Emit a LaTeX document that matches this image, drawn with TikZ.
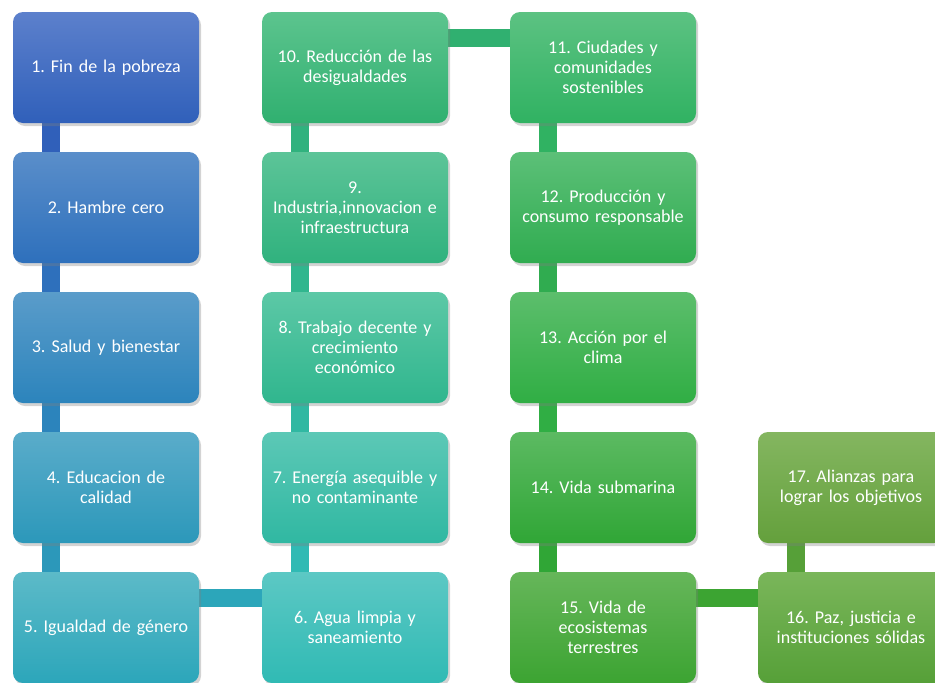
\documentclass[tikz,border=0pt]{standalone}
\usepackage{fontspec}
\setmainfont{Carlito}
\usepackage{tikz}
\usetikzlibrary{positioning,shadows,backgrounds}
\frenchspacing

\definecolor{t1}{RGB}{92,128,204}\definecolor{b1}{RGB}{48,96,186}
\definecolor{t2}{RGB}{90,142,202}\definecolor{b2}{RGB}{46,112,188}
\definecolor{t3}{RGB}{90,156,202}\definecolor{b3}{RGB}{44,132,188}
\definecolor{t4}{RGB}{90,172,202}\definecolor{b4}{RGB}{44,152,186}
\definecolor{t5}{RGB}{92,186,200}\definecolor{b5}{RGB}{44,166,186}
\definecolor{t6}{RGB}{92,200,196}\definecolor{b6}{RGB}{48,186,180}
\definecolor{t7}{RGB}{92,200,182}\definecolor{b7}{RGB}{48,184,162}
\definecolor{t8}{RGB}{92,200,166}\definecolor{b8}{RGB}{48,182,142}
\definecolor{t9}{RGB}{92,196,152}\definecolor{b9}{RGB}{48,178,126}
\definecolor{t10}{RGB}{92,196,142}\definecolor{b10}{RGB}{48,176,112}
\definecolor{t11}{RGB}{92,194,130}\definecolor{b11}{RGB}{48,178,98}
\definecolor{t12}{RGB}{92,192,120}\definecolor{b12}{RGB}{48,172,80}
\definecolor{t13}{RGB}{92,190,108}\definecolor{b13}{RGB}{48,174,68}
\definecolor{t14}{RGB}{92,186,98}\definecolor{b14}{RGB}{48,166,54}
\definecolor{t15}{RGB}{102,182,90}\definecolor{b15}{RGB}{60,164,50}
\definecolor{t16}{RGB}{122,182,90}\definecolor{b16}{RGB}{86,160,56}
\definecolor{t17}{RGB}{132,182,96}\definecolor{b17}{RGB}{100,160,60}

\begin{document}
\begin{tikzpicture}[x=1pt, y=-1pt,
    goal/.style={rounded corners=10pt, minimum width=186pt, minimum height=111pt,
        inner sep=0pt, text width=184pt, align=center, text=white,
        font=\fontsize{18}{20}\selectfont,
        drop shadow={opacity=0.35, shadow xshift=2pt, shadow yshift=-3pt}},
    tone/.style={top color=t#1, bottom color=b#1},
    link/.style={line width=18pt, draw=#1}]
    \useasboundingbox (0,0) rectangle (935,683);
    \node[goal, tone=1] (g1) at (106,67.5) {1. Fin de la pobreza};
    \node[goal, tone=2] (g2) at (106,207.5) {2. Hambre cero};
    \node[goal, tone=3] (g3) at (106,347.5) {3. Salud y bienestar};
    \node[goal, tone=4] (g4) at (106,487.5) {4. Educacion de\\calidad};
    \node[goal, tone=5] (g5) at (106,627.5) {5. Igualdad de género};
    \node[goal, tone=6] (g6) at (355,627.5) {6. Agua limpia y\\saneamiento};
    \node[goal, tone=7] (g7) at (355,487.5) {7. Energía asequible y\\no contaminante};
    \node[goal, tone=8] (g8) at (355,347.5) {8. Trabajo decente y\\crecimiento\\económico};
    \node[goal, tone=9] (g9) at (355,207.5) {9.\\Industria,innovacion e\\infraestructura};
    \node[goal, tone=10] (g10) at (355,67.5) {10. Reducción de las\\desigualdades};
    \node[goal, tone=11] (g11) at (603,67.5) {11. Ciudades y\\comunidades\\sostenibles};
    \node[goal, tone=12] (g12) at (603,207.5) {12. Producción y\\consumo responsable};
    \node[goal, tone=13] (g13) at (603,347.5) {13. Acción por el\\clima};
    \node[goal, tone=14] (g14) at (603,487.5) {14. Vida submarina};
    \node[goal, tone=15] (g15) at (603,627.5) {15. Vida de\\ecosistemas\\terrestres};
    \node[goal, tone=16] (g16) at (851,627.5) {16. Paz, justicia e\\instituciones sólidas};
    \node[goal, tone=17] (g17) at (851,487.5) {17. Alianzas para\\lograr los objetivos};
    % connectors behind the boxes
    \begin{pgfonlayer}{background}
    \draw[link=b1] ([xshift=38pt]g1.south west) -- ([xshift=38pt]g2.north west);
    \draw[link=b2] ([xshift=38pt]g2.south west) -- ([xshift=38pt]g3.north west);
    \draw[link=b3] ([xshift=38pt]g3.south west) -- ([xshift=38pt]g4.north west);
    \draw[link=b4] ([xshift=38pt]g4.south west) -- ([xshift=38pt]g5.north west);
    \draw[link=b5] ([yshift=-26pt]g5.north east) -- ([yshift=-26pt]g6.north west);
    \draw[link=b6] ([xshift=38pt]g6.north west) -- ([xshift=38pt]g7.south west);
    \draw[link=b7] ([xshift=38pt]g7.north west) -- ([xshift=38pt]g8.south west);
    \draw[link=b8] ([xshift=38pt]g8.north west) -- ([xshift=38pt]g9.south west);
    \draw[link=b9] ([xshift=38pt]g9.north west) -- ([xshift=38pt]g10.south west);
    \draw[link=b10] ([yshift=-26pt]g10.north east) -- ([yshift=-26pt]g11.north west);
    \draw[link=b11] ([xshift=38pt]g11.south west) -- ([xshift=38pt]g12.north west);
    \draw[link=b12] ([xshift=38pt]g12.south west) -- ([xshift=38pt]g13.north west);
    \draw[link=b13] ([xshift=38pt]g13.south west) -- ([xshift=38pt]g14.north west);
    \draw[link=b14] ([xshift=38pt]g14.south west) -- ([xshift=38pt]g15.north west);
    \draw[link=b15] ([yshift=-26pt]g15.north east) -- ([yshift=-26pt]g16.north west);
    \draw[link=b16] ([xshift=38pt]g16.north west) -- ([xshift=38pt]g17.south west);
    \end{pgfonlayer}
\end{tikzpicture}
\end{document}
